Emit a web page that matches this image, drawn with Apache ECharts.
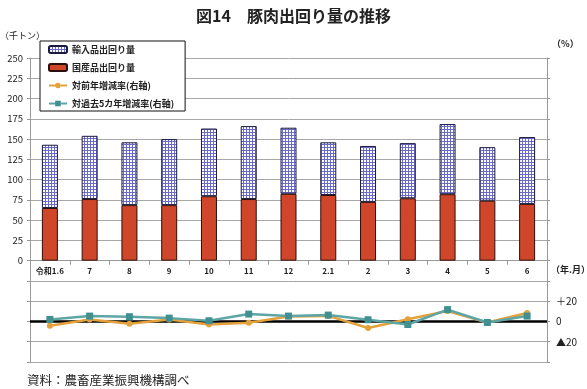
<!DOCTYPE html>
<html>
<head>
<meta charset="utf-8">
<script src="https://cdn.jsdelivr.net/npm/echarts@6/dist/echarts.min.js"></script>
<style>
html,body{margin:0;padding:0;background:#fff;}
#c{width:587px;height:389px;}
</style>
</head>
<body>
<div id="c"></div>
<script>
const categories = ['令和1.6','7','8','9','10','11','12','2.1','2','3','4','5','6'];
const domestic = [65, 76, 68.5, 68.5, 79.5, 76, 82.5, 81, 72.5, 77, 82, 74, 70];
const imports  = [78, 78, 77.5, 81.5, 83.5, 90, 81.5, 65, 69, 68, 86.5, 66, 82.5];
const yoy      = [-4.3, 2, -2.3, 2, -3, -1.3, 5, 5.5, -6.5, 2.2, 10.3, -1, 8.3];
const vs5yr    = [2, 5.3, 4.7, 3.3, 0.7, 7.3, 5.3, 6.3, 1.7, -3, 11.7, -1, 5.3];
const leftTicks = [0,25,50,75,100,125,150,175,200,225,250];
const rightTickLabels = {20:'＋20', 0:'0', '-20':'▲20'};

const FONT = '"Noto Sans CJK JP", "Noto Sans", sans-serif';

// crosshatch pattern for imports
const pc = document.createElement('canvas');
pc.width = 3; pc.height = 3;
const pctx = pc.getContext('2d');
pctx.fillStyle = '#ffffff';
pctx.fillRect(0,0,3,3);
pctx.fillStyle = '#6a6ac8';
pctx.fillRect(0,0,3,1);
pctx.fillRect(0,0,1,3);
const hatch = {image: pc, repeat: 'repeat'};

const GL = 30, GR = 40, GT = 58;
const chart = echarts.init(document.getElementById('c'), null, {renderer:'canvas'});
chart.setOption({
  animation: false,
  backgroundColor: '#fff',
  textStyle: {fontFamily: FONT},
  title: {
    text: '図14　豚肉出回り量の推移',
    left: 'center', top: 3,
    textStyle: {fontFamily: FONT, fontSize: 16, fontWeight: 'bold', color: '#222'}
  },
  legend: {
    orient: 'vertical',
    left: 40, top: 41,
    padding: [3, 11, 2, 8],
    backgroundColor: '#fff',
    borderColor: '#111', borderWidth: 1,
    itemWidth: 18, itemHeight: 7, itemGap: 7,
    textStyle: {fontFamily: FONT, fontSize: 9, lineHeight: 11, color: '#222', fontWeight: 'bold'},
    data: [
      {name: '輸入品出回り量'},
      {name: '国産品出回り量'},
      {name: '対前年増減率(右軸)', lineStyle: {type: 'dashed'}},
      {name: '対過去5カ年増減率(右軸)', lineStyle: {type: 'dashed'}}
    ]
  },
  grid: [
    {left: GL, right: GR, top: GT, bottom: 27, containLabel: false},
    {left: GL, right: GR, top: GT, bottom: 128.3, containLabel: false}
  ],
  xAxis: [
    {
      type: 'category', gridIndex: 0,
      data: categories,
      boundaryGap: true,
      axisLine: {show: false},
      axisTick: {show: false},
      axisLabel: {show: false}
    },
    {
      type: 'category', gridIndex: 1,
      data: categories,
      boundaryGap: true,
      axisLine: {show: true, onZero: false, lineStyle: {color: '#999', width: 1}},
      axisTick: {show: true, length: 4, interval: 0, lineStyle: {color: '#999'}},
      axisLabel: {fontFamily: FONT, fontSize: 8, color: '#222', fontWeight: 'bold', margin: 6, interval: 0}
    }
  ],
  yAxis: [
    {
      type: 'value', gridIndex: 0, min: -125, max: 250, interval: 25,
      axisLine: {show: true, lineStyle: {color: '#999'}},
      axisTick: {show: true, length: 3, lineStyle: {color: '#999'}},
      splitLine: {show: true, lineStyle: {color: '#a8a8a8', width: 1}},
      axisLabel: {
        fontFamily: FONT, fontSize: 9.5, color: '#222', margin: 7,
        formatter: v => (leftTicks.indexOf(v) >= 0 ? String(v) : '')
      }
    },
    {
      type: 'value', gridIndex: 0, min: -40, max: 260, interval: 20, position: 'right',
      axisLine: {show: true, lineStyle: {color: '#999'}},
      axisTick: {show: true, length: 3, lineStyle: {color: '#999'}},
      splitLine: {show: false},
      axisLabel: {
        fontFamily: FONT, fontSize: 10, color: '#222', margin: 9,
        formatter: v => (rightTickLabels[v] !== undefined ? rightTickLabels[v] : '')
      }
    },
    {
      type: 'value', gridIndex: 1, min: 0, max: 250, interval: 25, show: false
    }
  ],
  graphic: [
    {type: 'text', left: 0, top: 31, style: {text: '（千トン）', font: '9px ' + FONT, fill: '#222'}},
    {type: 'text', left: 552, top: 39, style: {text: '（%）', font: 'bold 9px ' + FONT, fill: '#222'}},
    {type: 'text', left: 551, top: 265, style: {text: '（年.月）', font: 'bold 9px ' + FONT, fill: '#222'}},
    {type: 'text', left: 27, top: 374, style: {text: '資料：農畜産業振興機構調べ', font: '12.5px ' + FONT, fill: '#222'}}
  ],
  series: [
    {
      name: '国産品出回り量', type: 'bar', stack: 'total', xAxisIndex: 0, yAxisIndex: 0,
      barWidth: 16,
      itemStyle: {color: '#d0462b', borderColor: '#2b0f0a', borderWidth: 1},
      data: domestic
    },
    {
      name: '輸入品出回り量', type: 'bar', stack: 'total', xAxisIndex: 0, yAxisIndex: 0,
      barWidth: 16,
      itemStyle: {color: hatch, borderColor: '#1a1a40', borderWidth: 1},
      data: imports
    },
    {
      name: '対前年増減率(右軸)', type: 'line', xAxisIndex: 0, yAxisIndex: 1,
      symbol: 'circle', symbolSize: 6,
      itemStyle: {color: '#e3a23b'},
      lineStyle: {color: '#e3a23b', width: 2.5},
      data: yoy
    },
    {
      name: '対過去5カ年増減率(右軸)', type: 'line', xAxisIndex: 0, yAxisIndex: 1,
      symbol: 'rect', symbolSize: 7,
      itemStyle: {color: '#418f8f'},
      lineStyle: {color: '#5ea5a5', width: 2.5},
      data: vs5yr,
      markLine: {
        silent: true, symbol: 'none', label: {show: false},
        lineStyle: {color: '#000', width: 2.5, type: 'solid'},
        data: [{yAxis: 0}],
        z: 1
      }
    }
  ]
});
</script>
</body>
</html>
